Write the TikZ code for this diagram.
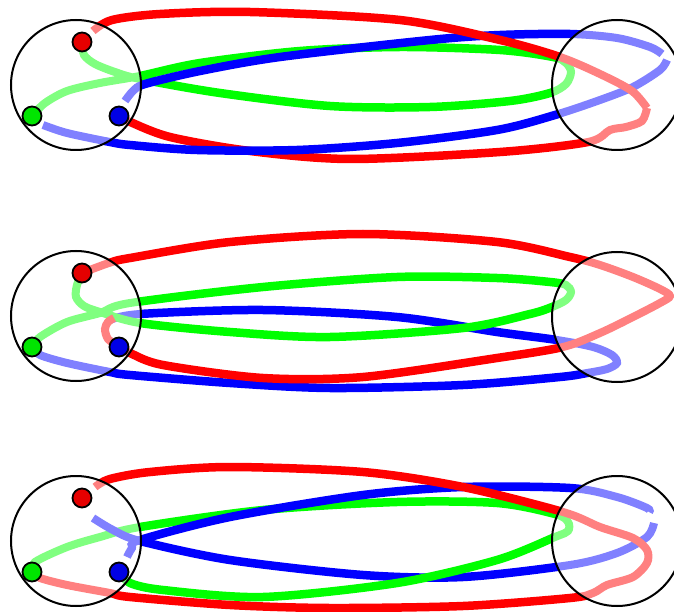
\documentclass[tikz,border=0pt]{standalone}
\usepackage{tikz}
\usetikzlibrary{arrows.meta, positioning}

\begin{document}
\begin{tikzpicture}[x=1pt, y=-1pt,
    strand/.style={line width=8.5pt, draw=#1, line join=round},
    hatch/.style={line width=8pt, draw=#1!50,
      postaction={draw=#1!90, dash pattern=on 1pt off 1pt}},
    ring/.style={circle, draw=black, line width=2pt, minimum size=130pt, inner sep=0pt},
    dot/.style={circle, draw=black, line width=1.8pt, fill=#1!90!black,
      minimum size=19pt, inner sep=0pt}]
  \useasboundingbox (0,0) rectangle (674,612);
  % circle centres (left / right)
  \coordinate (cA) at (76,85);  \coordinate (dA) at (617,85);
  \coordinate (cB) at (76,316); \coordinate (dB) at (617,317);
  \coordinate (cC) at (76,541); \coordinate (dC) at (617,541);

  % ---- row 1
  \path[save path=\redTopA] plot[smooth] coordinates {(93,31) (112,20) (160,14) (250,12)
    (400,20) (500,40) (560,57) (600,74) (632,91) (647,108)};
  \path[save path=\redBotA] plot[smooth] coordinates {(647,108) (642,121) (626,127) (610,130)
    (588,142) (500,152) (350,159) (250,151) (170,137) (128,121) (119,116)};
  \path[save path=\greenA] plot[smooth] coordinates {(82,42) (84,55) (95,64) (115,72) (140,79)
    (220,93) (330,106) (430,107) (510,101) (550,93) (566,84) (571,72) (566,63)
    (553,57) (500,50) (400,47) (300,51) (200,63) (140,76) (100,83) (67,91) (45,103) (32,116)};
  \path[save path=\blueUpA] plot[smooth] coordinates {(125,101) (133,91) (145,84) (200,71)
    (280,57) (430,40) (500,35) (570,34) (617,38) (650,47) (662,54)};
  \path[save path=\blueLowA] plot[smooth] coordinates {(667,60) (660,70) (633,87) (600,100)
    (555,115) (497,130) (397,143) (297,150) (197,150) (130,145) (110,142) (67,133) (43,125)};
  \draw[strand=red, use path=\redBotA];
  \draw[strand=green, use path=\greenA];
  \draw[strand=blue, use path=\blueUpA];
  \draw[strand=blue, use path=\blueLowA];
  \draw[strand=red, use path=\redTopA];
  \foreach \c in {cA, dA} {
    \begin{scope}
      \clip (\c) circle[radius=65];
      \fill[white] (\c) circle[radius=65];
      \draw[hatch=green, use path=\greenA];
      \draw[hatch=blue, use path=\blueUpA];
      \draw[hatch=blue, use path=\blueLowA];
      \draw[hatch=red, use path=\redBotA];
      \draw[hatch=red, use path=\redTopA];
    \end{scope}
  }

  % ---- row 2
  \path[save path=\redB] plot[smooth] coordinates {(82,273) (95,268) (112,262) (130,258)
    (230,242) (363,234) (497,242) (570,257) (600,265) (633,277) (660,289) (670,296)
    (660,303) (633,317) (600,333) (563,347) (497,358) (363,377) (263,378) (163,365)
    (130,353) (119,347)};
  \path[save path=\hookB] plot[smooth] coordinates {(119,347) (108,339) (105,329) (108,322) (114,318)};
  \path[save path=\blueB] plot[smooth] coordinates {(110,320) (140,314) (263,310) (397,317)
    (497,332) (557,340) (593,347) (612,355) (617,363) (607,369) (587,373) (560,377)
    (463,385) (330,388) (230,383) (130,375) (110,372) (67,363) (40,355) (32,347)};
  \path[save path=\greenB] plot[smooth] coordinates {(82,273) (77,285) (76,297) (84,306)
    (100,312) (140,323) (230,332) (330,337) (463,328) (530,314) (552,307) (566,300)
    (571,292) (566,285) (550,282) (497,278) (397,277) (263,287) (130,303) (100,313)
    (67,322) (40,337) (32,347)};
  \draw[strand=blue, use path=\blueB];
  \draw[strand=red, use path=\redB];
  \draw[strand=green, use path=\greenB];
  \foreach \c in {cB, dB} {
    \begin{scope}
      \clip (\c) circle[radius=65];
      \fill[white] (\c) circle[radius=65];
      \draw[hatch=blue, use path=\blueB];
      \draw[hatch=green, use path=\greenB];
      \draw[hatch=red, use path=\redB];
      \draw[hatch=red, use path=\hookB];
    \end{scope}
  }

  % ---- row 3
  \path[save path=\redC] plot[smooth] coordinates {(95,487) (110,479) (150,472) (230,467)
    (363,472) (463,487) (563,512) (600,527) (633,538) (647,550) (647,563) (633,577)
    (607,585) (593,593) (570,598) (463,606) (330,608) (230,605) (130,597) (110,593)
    (67,585) (40,578) (32,572)};
  \path[save path=\blueLowC] plot[smooth] coordinates {(93,518) (113,530) (140,541) (230,560)
    (363,575) (463,577) (570,565) (617,553) (647,537) (654,523)};
  \path[save path=\blueUpC] plot[smooth] coordinates {(649,512) (647,508) (617,497) (570,488)
    (463,487) (363,495) (230,517) (140,540) (132,548) (127,557)};
  \path[save path=\greenC] plot[smooth] coordinates {(32,572) (35,562) (67,547) (100,537)
    (140,527) (263,510) (397,502) (497,503) (555,514) (568,522) (568,531) (555,537)
    (497,560) (397,583) (263,597) (163,590) (130,583) (119,572)};
  \draw[strand=blue, use path=\blueLowC];
  \draw[strand=green, use path=\greenC];
  \draw[strand=blue, use path=\blueUpC];
  \draw[strand=red, use path=\redC];
  \foreach \c in {cC, dC} {
    \begin{scope}
      \clip (\c) circle[radius=65];
      \fill[white] (\c) circle[radius=65];
      \draw[hatch=green, use path=\greenC];
      \draw[hatch=blue, use path=\blueLowC];
      \draw[hatch=blue, use path=\blueUpC];
      \draw[hatch=red, use path=\redC];
    \end{scope}
  }

  % circles
  \foreach \c in {cA, dA, cB, dB, cC, dC}
    \node[ring] (ring\c) at (\c) {};
  % punctures
  \node[dot=red]   (redA)   at (82,42)   {};
  \node[dot=green] (greenA) at (32,116)  {};
  \node[dot=blue]  (blueA)  at (119,116) {};
  \node[dot=red]   (redB)   at (82,273)  {};
  \node[dot=green] (greenB) at (32,347)  {};
  \node[dot=blue]  (blueB)  at (119,347) {};
  \node[dot=red]   (redC)   at (82,498)  {};
  \node[dot=green] (greenC) at (32,572)  {};
  \node[dot=blue]  (blueC)  at (119,572) {};
\end{tikzpicture}
\end{document}
